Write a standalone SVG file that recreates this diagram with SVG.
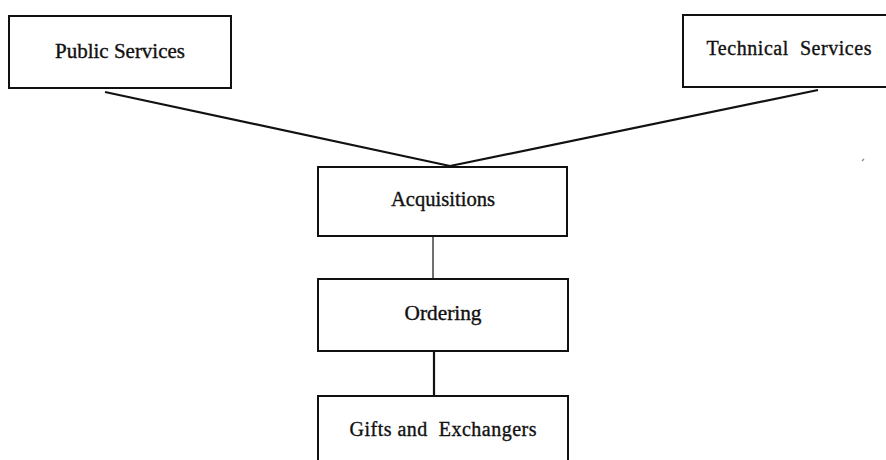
<svg xmlns="http://www.w3.org/2000/svg" width="886" height="460" viewBox="0 0 886 460">
  <style>
    .box { fill: #ffffff; stroke: #111111; stroke-width: 2; }
    .lbl { font-family: "Liberation Serif", "Times New Roman", serif; font-size: 20px; fill: #111111; stroke: #111111; stroke-width: 0.35; text-anchor: middle; }
    .conn { stroke: #111111; fill: none; }
  </style>
  <rect width="886" height="460" fill="#ffffff"/>
  <g id="connectors">
    <line class="conn" x1="105" y1="92" x2="450" y2="166" stroke-width="2.2"/>
    <line class="conn" x1="818" y1="90" x2="450" y2="166" stroke-width="2.2"/>
    <line class="conn" x1="433" y1="237" x2="433" y2="279" stroke-width="1.2"/>
    <line class="conn" x1="434" y1="345" x2="434" y2="396" stroke-width="2.2"/>
  </g>
  <g id="public-services">
    <rect class="box" x="9" y="16" width="222" height="72"/>
    <text class="lbl" x="120" y="58" textLength="130" lengthAdjust="spacingAndGlyphs">Public Services</text>
  </g>
  <g id="technical-services">
    <rect class="box" x="683" y="15" width="210" height="72"/>
    <text class="lbl" x="789" y="55" textLength="165" lengthAdjust="spacing" xml:space="preserve">Technical  Services</text>
  </g>
  <g id="acquisitions">
    <rect class="box" x="318" y="167" width="249" height="69"/>
    <text class="lbl" x="443" y="206" textLength="104" lengthAdjust="spacingAndGlyphs">Acquisitions</text>
  </g>
  <g id="ordering">
    <rect class="box" x="318" y="279" width="250" height="72"/>
    <text class="lbl" x="443" y="320" textLength="77" lengthAdjust="spacingAndGlyphs">Ordering</text>
  </g>
  <g id="gifts-and-exchangers">
    <rect class="box" x="318" y="396" width="250" height="80"/>
    <text class="lbl" x="443" y="436" textLength="187" lengthAdjust="spacing" xml:space="preserve">Gifts and  Exchangers</text>
  </g>
  <line x1="862" y1="161" x2="864" y2="159" stroke="#888888" stroke-width="1.2"/>
</svg>
